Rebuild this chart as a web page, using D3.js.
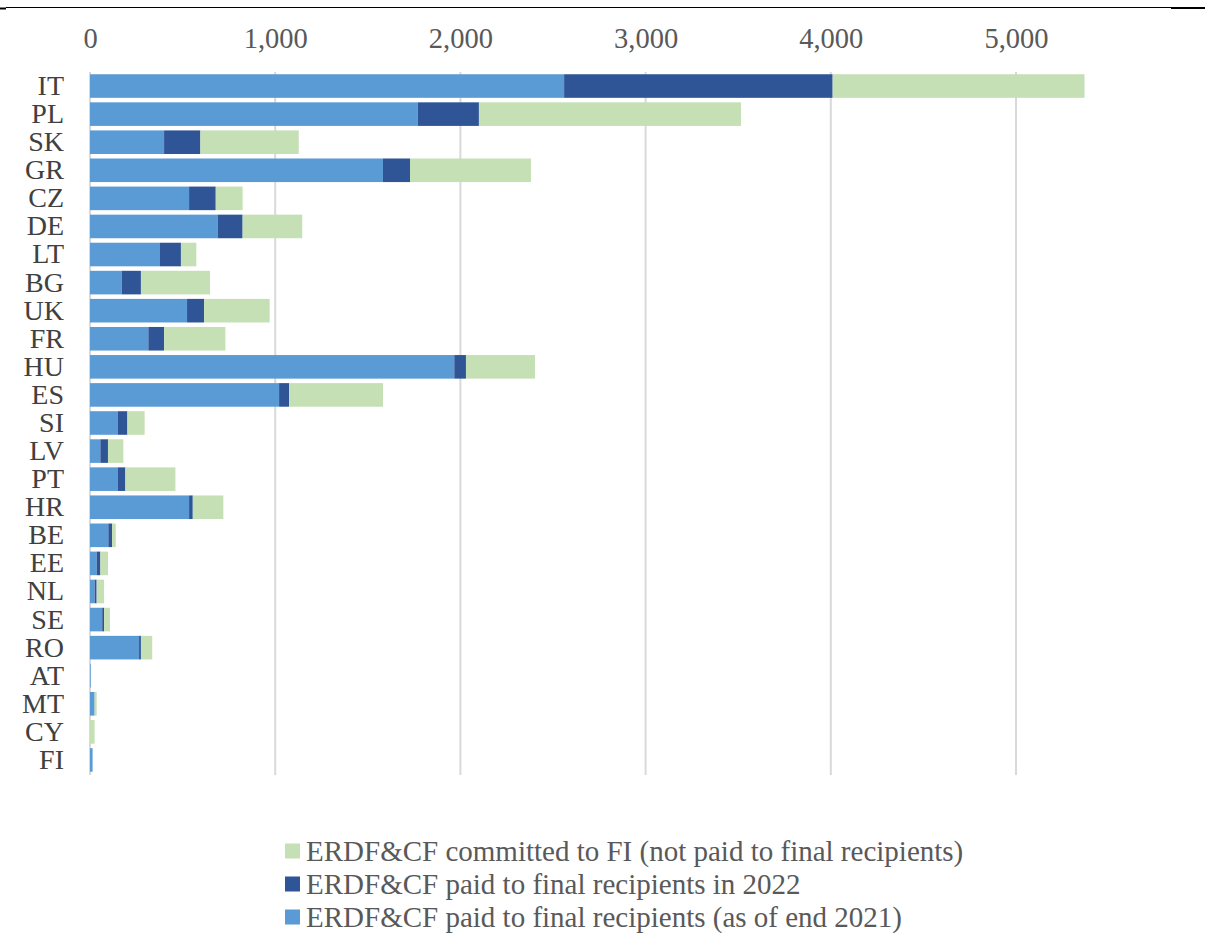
<!DOCTYPE html>
<html>
<head>
<meta charset="utf-8">
<script src="https://cdn.jsdelivr.net/npm/d3@7"></script>
<style>
  body { margin: 0; background: #fff; }
  svg text { font-family: "Liberation Serif", "Times New Roman", serif; }
</style>
</head>
<body>
<svg id="chart" width="1205" height="940"></svg>
<script>
// categories, top to bottom
var countries = ["IT","PL","SK","GR","CZ","DE","LT","BG","UK","FR","HU","ES","SI","LV","PT","HR","BE","EE","NL","SE","RO","AT","MT","CY","FI"];

// EUR million
var paid2021 = [2560,1770,400,1582,535,689,378,171,524,315,1967,1021,149,56,149,535,99,36,25,66,265,4,25,0,14];
var paid2022 = [1450,330,196,146,144,135,113,104,92,85,63,54,53,41,42,20,20,20,11,10,10,0,0,0,0];
var committed = [1360,1415,531,653,145,322,83,373,354,331,373,507,93,83,270,165,20,41,40,32,61,0,11,25,0];

var tickValues = [0,1000,2000,3000,4000,5000];

var seriesNames = [
    "ERDF&CF paid to final recipients (as of end 2021)",
    "ERDF&CF paid to final recipients in 2022",
    "ERDF&CF committed to FI (not paid to final recipients)"
];
var seriesColors = ["#5b9bd5", "#2f5597", "#c5e0b4"];

var d3svg = d3.select("#chart");

var margin = { top: 72, left: 90 };
var plotBottom = 774;

var rows = countries.map(function (c, i) {
    return { country: c, v0: paid2021[i], v1: paid2022[i], v2: committed[i] };
});

var stack = d3.stack().keys(["v0","v1","v2"]);
var layers = stack(rows);

var x = d3.scaleLinear().domain([0, 1000]).range([90, 275.2]);
var y = d3.scaleBand().domain(countries).range([margin.top, plotBottom]).paddingInner(0.16).paddingOuter(0.08);

// top rule
d3svg.append("line").attr("x1", 6).attr("x2", 1171).attr("y1", 7.5).attr("y2", 7.5)
    .attr("stroke", "#000").attr("stroke-width", 1.2);
d3svg.append("line").attr("x1", 1171).attr("x2", 1205).attr("y1", 8).attr("y2", 8)
    .attr("stroke", "#000").attr("stroke-width", 2);
d3svg.append("line").attr("x1", 0).attr("x2", 6).attr("y1", 8.5).attr("y2", 8.5)
    .attr("stroke", "#000").attr("stroke-width", 2);

// gridlines
d3svg.append("g").selectAll("line").data(tickValues).enter().append("line")
    .attr("x1", function (d) { return x(d); })
    .attr("x2", function (d) { return x(d); })
    .attr("y1", margin.top)
    .attr("y2", plotBottom + 1)
    .attr("stroke", "#d9d9d9")
    .attr("stroke-width", 2);

// top axis labels
var xAxis = d3.axisTop(x).tickValues(tickValues).tickSize(0).tickPadding(0)
    .tickFormat(d3.format(","));
var gx = d3svg.append("g").attr("transform", "translate(0,48)").call(xAxis);
gx.select(".domain").remove();
gx.selectAll("text")
    .attr("fill", "#595959")
    .style("font-size", "28.5px");

// bars
d3svg.append("g").selectAll("g").data(layers).enter().append("g")
    .attr("fill", function (d, i) { return seriesColors[i]; })
    .selectAll("rect").data(function (d) { return d; }).enter().append("rect")
    .attr("x", function (d) { return x(d[0]); })
    .attr("y", function (d) { return y(d.data.country); })
    .attr("width", function (d) { return Math.max(0, x(d[1]) - x(d[0])); })
    .attr("height", y.bandwidth());

// category labels
var yAxis = d3.axisLeft(y).tickSize(0).tickPadding(26);
var gy = d3svg.append("g").attr("transform", "translate(" + margin.left + ",0)").call(yAxis);
gy.select(".domain").remove();
gy.selectAll("text")
    .attr("fill", "#404040")
    .style("font-size", "28px");

// legend
var legendOrder = [2, 1, 0];
var legend = d3svg.append("g").selectAll("g").data(legendOrder).enter().append("g")
    .attr("transform", function (d, i) { return "translate(285," + (851 + i * 33) + ")"; });
legend.append("rect")
    .attr("x", 0).attr("y", -7.5).attr("width", 15).attr("height", 15)
    .attr("fill", function (d) { return seriesColors[d]; });
legend.append("text")
    .attr("x", 21).attr("y", 0).attr("dy", "0.35em")
    .attr("fill", "#595959")
    .style("font-size", "29px")
    .text(function (d) { return seriesNames[d]; });
</script>
</body>
</html>
